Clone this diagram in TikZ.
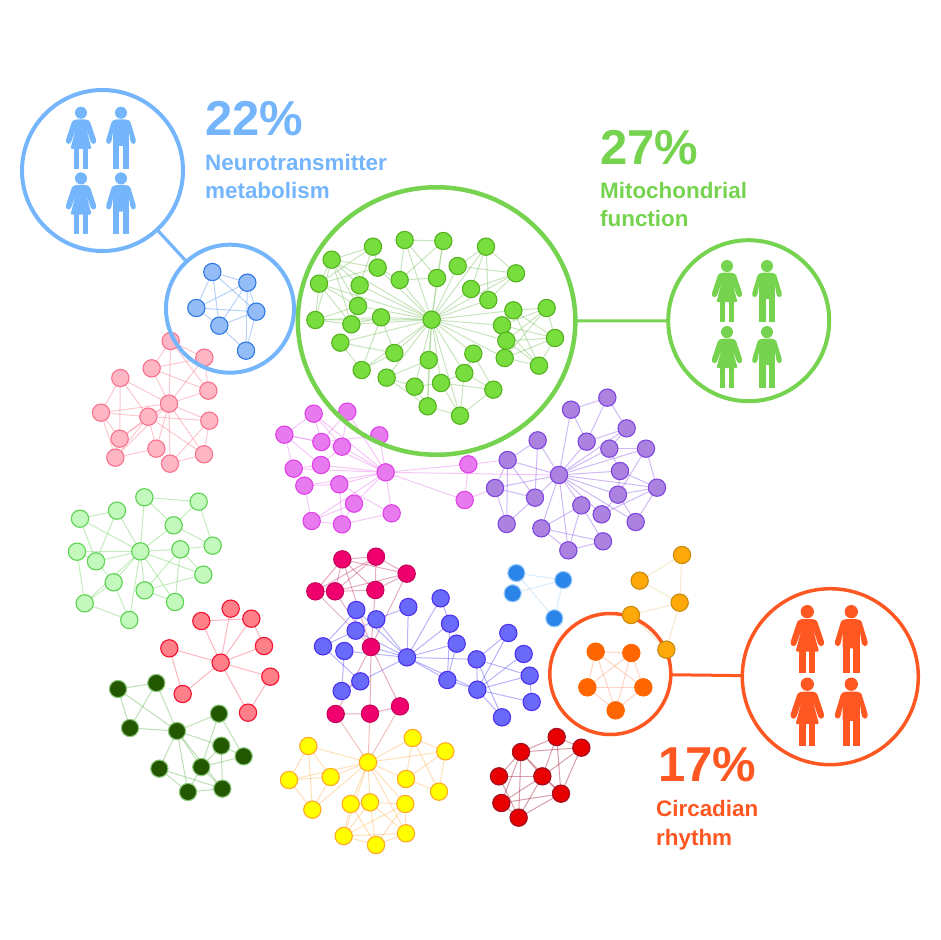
\documentclass[tikz,border=0pt]{standalone}
\usepackage{fontspec}
\setmainfont{Liberation Sans}
\usetikzlibrary{backgrounds,shapes.geometric}
\definecolor{cblue}{HTML}{74B5FC}
\definecolor{cgreen}{HTML}{76D350}
\definecolor{corange}{HTML}{FF5722}
\tikzset{
  dotnode/.style={circle,inner sep=0pt,outer sep=0pt,minimum size=17.3pt,line width=1.1pt},
  nblue/.style={dotnode,fill={rgb,255:red,148;green,189;blue,248},draw={rgb,255:red,45;green,120;blue,225}},
  ngreen/.style={dotnode,fill={rgb,255:red,119;green,222;blue,62},draw={rgb,255:red,84;green,178;blue,30}},
  npink/.style={dotnode,fill={rgb,255:red,255;green,182;blue,196},draw={rgb,255:red,248;green,112;blue,138}},
  nlight/.style={dotnode,fill={rgb,255:red,195;green,249;blue,188},draw={rgb,255:red,91;green,210;blue,79}},
  nmag/.style={dotnode,fill={rgb,255:red,232;green,122;blue,240},draw={rgb,255:red,224;green,64;blue,232}},
  npurple/.style={dotnode,fill={rgb,255:red,171;green,130;blue,224},draw={rgb,255:red,126;green,69;blue,224}},
  ncrim/.style={dotnode,fill={rgb,255:red,240;green,0;blue,110},draw={rgb,255:red,200;green,0;blue,90}},
  nviolet/.style={dotnode,fill={rgb,255:red,106;green,106;blue,250},draw={rgb,255:red,74;green,48;blue,240}},
  nsky/.style={dotnode,fill={rgb,255:red,43;green,133;blue,232},draw={rgb,255:red,170;green,212;blue,248}},
  nred/.style={dotnode,fill={rgb,255:red,255;green,128;blue,136},draw={rgb,255:red,245;green,16;blue,48}},
  ndark/.style={dotnode,fill={rgb,255:red,36;green,88;blue,0},draw={rgb,255:red,140;green,200;blue,125}},
  nyellow/.style={dotnode,fill={rgb,255:red,255;green,255;blue,0},draw={rgb,255:red,255;green,168;blue,32}},
  ndred/.style={dotnode,fill={rgb,255:red,232;green,0;blue,0},draw={rgb,255:red,160;green,16;blue,32}},
  norange/.style={dotnode,fill={rgb,255:red,255;green,102;blue,0},draw={rgb,255:red,255;green,102;blue,0}},
  namber/.style={dotnode,fill={rgb,255:red,255;green,168;blue,10},draw={rgb,255:red,200;green,138;blue,16}},
  ringnode/.style={circle,inner sep=0pt,outer sep=0pt,draw=#1},
  bigtext/.style={anchor=base west,inner sep=0pt,font=\bfseries\fontsize{49}{49}\selectfont},
  smalltext/.style={anchor=base west,inner sep=0pt,font=\bfseries\fontsize{22.4}{26}\selectfont},
  woman/.pic={
    \fill[pic actions] (0,20) circle[radius=20];
    \fill[pic actions,rounded corners=1.3pt] (-16,42) -- (-29,47) -- (-51,113) -- (-47,123) -- (-36,123) -- (-31,113) -- (-15,65) -- (-35,140) -- (35,140) -- (15,65) -- (31,113) -- (36,123) -- (47,123) -- (51,113) -- (29,47) -- (16,42) -- cycle;
    \fill[pic actions] (-24,136) rectangle (-5,205);
    \fill[pic actions] (5,136) rectangle (24,205);
  },
  man/.pic={
    \fill[pic actions] (0,20) circle[radius=20];
    \fill[pic actions,rounded corners=1.3pt] (-16,42) -- (-30,47) -- (-50,113) -- (-46,123) -- (-36,123) -- (-31,113) -- (-26,80) -- (-26,130) -- (26,130) -- (26,80) -- (31,113) -- (36,123) -- (46,123) -- (50,113) -- (30,47) -- (16,42) -- cycle;
    \fill[pic actions] (-26,120) rectangle (-5,205);
    \fill[pic actions] (5,125) rectangle (26,205);
    \fill[pic actions] (-5,110) rectangle (5,125);
  },
  edgeline/.style={line width=1pt,draw opacity=0.45},
}
\newcommand{\placenodes}[2]{\foreach \n/\x/\y in {#2} \node[#1] (\n) at (\x,\y) {};}
\newcommand{\linknodes}[2]{\begin{scope}[on background layer]\foreach \a/\b in {#2} \draw[edgeline,draw={#1}] (\a) -- (\b);\end{scope}}
\begin{document}
\begin{tikzpicture}[x=1pt,y=-1pt]
\useasboundingbox (0,0) rectangle (940,940);
% --- pink + light green
\begin{scope}[shift={(60,330)},scale=1/3]
\placenodes{npink}{p0/327/221,p1/332/33,p2/433/83,p3/275/115,p4/445/182,p5/181/144,p6/123/248,p7/265/260,p8/448/272,p9/179/326,p10/289/356,p11/166/383,p12/330/401,p13/432/373}
\placenodes{nlight}{l0/241/664,l1/253/502,l2/416/515,l3/171/542,l4/60/566,l5/341/586,l6/458/647,l7/361/658,l8/51/665,l9/108/694,l10/430/734,l11/161/757,l12/254/781,l13/345/816,l14/74/820,l15/208/870}
\end{scope}
\linknodes{rgb,255:red,250;green,130;blue,150}{p1/p3,p1/p2,p1/p0,p1/p4,p2/p3,p2/p0,p2/p4,p3/p0,p3/p4,p4/p0,p5/p6,p5/p9,p5/p7,p5/p0,p6/p0,p6/p7,p6/p9,p6/p11,p7/p0,p7/p9,p7/p11,p7/p10,p7/p8,p7/p13,p0/p8,p0/p9,p0/p10,p0/p11,p0/p12,p0/p13,p8/p12,p8/p13,p10/p11,p12/p13,p9/p11}
\linknodes{rgb,255:red,120;green,215;blue,105}{l1/l2,l1/l5,l1/l0,l2/l5,l2/l6,l3/l4,l3/l0,l3/l9,l4/l0,l4/l9,l5/l0,l5/l6,l7/l0,l7/l6,l7/l12,l7/l13,l8/l0,l8/l9,l8/l14,l9/l0,l9/l11,l10/l0,l10/l7,l10/l12,l11/l0,l11/l14,l11/l15,l12/l0,l12/l13,l13/l0,l14/l0,l14/l15,l15/l0}
% --- magenta + purple
\begin{scope}[shift={(270,390)},scale=1/3]
\placenodes{nmag}{m0/347/247,m1/131/71,m2/232/65,m3/43/134,m4/328/136,m5/154/156,m6/216/170,m7/153/225,m8/71/236,m9/103/287,m10/208/283,m11/252/341,m12/365/370,m13/125/393,m14/216/403,m15/595/223,m16/584/330}
\placenodes{npurple}{u0/867/255,u1/1012/23,u2/903/59,u3/1070/115,u4/803/151,u5/950/155,u6/1018/176,u7/1128/176,u8/713/210,u9/1050/243,u10/675/294,u11/1161/293,u12/1044/314,u13/795/323,u14/934/346,u15/995/373,u16/1097/396,u17/710/402,u18/814/415,u19/999/454,u20/895/481}
\end{scope}
\linknodes{rgb,255:red,232;green,130;blue,240}{m1/m0,m1/m3,m1/m5,m1/m6,m2/m0,m2/m6,m2/m5,m3/m5,m3/m6,m3/m7,m3/m8,m4/m5,m4/m0,m5/m0,m6/m0,m6/m7,m7/m0,m7/m8,m8/m0,m9/m0,m9/m10,m9/m13,m10/m0,m10/m12,m10/m14,m11/m0,m11/m13,m11/m14,m12/m0,m12/m14,m13/m0,m13/m14,m0/m15,m0/m16,m15/m16,m15/u8,m16/u10,m0/u0}
\linknodes{rgb,255:red,150;green,100;blue,235}{u0/u2,u0/u3,u0/u4,u0/u5,u0/u6,u0/u7,u0/u8,u0/u9,u0/u10,u0/u11,u0/u12,u0/u13,u0/u14,u0/u15,u0/u16,u0/u18,u0/u20,u1/u2,u1/u3,u1/u5,u2/u5,u3/u5,u3/u6,u4/u8,u4/u13,u6/u7,u7/u11,u7/u12,u6/u9,u9/u12,u9/u11,u11/u12,u11/u15,u11/u16,u12/u15,u12/u16,u8/u10,u8/u13,u8/u17,u10/u13,u10/u17,u13/u17,u14/u18,u14/u19,u14/u20,u18/u20,u18/u19,u19/u20}
% --- crimson, violet, sky
\begin{scope}[shift={(300,540)},scale=1/3]
\placenodes{nviolet}{v0/321/352,v1/169/210,v2/229/238,v3/325/201,v4/167/272,v5/69/319,v6/133/333,v7/181/424,v8/125/453,v9/422/175,v10/450/251,v11/470/311,v12/442/420,v13/530/358,v14/532/449,v15/625/279,v16/671/342,v17/689/407,v18/695/486,v19/606/532}
\placenodes{ncrim}{c1/127/58,c2/228/50,c3/320/101,c4/46/154,c5/105/154,c6/226/150,c7/213/321,c8/107/522,c9/210/521,c10/300/499}
\placenodes{nsky}{w1/649/99,w2/638/160,w3/790/120,w4/763/235}
\end{scope}
\linknodes{rgb,255:red,200;green,70;blue,120}{c1/c2,c1/c3,c1/c4,c1/c5,c1/c6,c2/c3,c2/c4,c2/c5,c2/c6,c3/c5,c3/c6,c3/c7,c4/c5,c5/c6,c4/c7,c1/c7,c5/c7,c6/c7,c7/c8,c7/c9,c7/c10,c8/c9,c9/c10}
\linknodes{rgb,255:red,95;green,85;blue,245}{v0/v1,v0/v2,v0/v3,v0/v4,v0/v6,v0/c7,v0/v7,v0/v9,v0/v10,v0/v11,v0/v12,v0/v13,v0/v14,v1/v5,v1/v4,v2/v3,v2/v4,v4/v5,v5/v7,v6/v8,v7/v8,v9/v10,v11/v12,v10/v12,v12/v14,v13/v14,v13/v15,v13/v17,v13/v19,v14/v15,v14/v16,v14/v17,v14/v18,v14/v19,v17/v18}
\linknodes{rgb,255:red,170;green,212;blue,248}{w1/w3,w1/w4,w2/w3,w3/w4}
% --- red + dark green
\begin{scope}[shift={(100,600)},scale=1/3]
\placenodes{nred}{r0/362/188,r1/392/26,r2/304/63,r3/454/56,r4/492/138,r5/208/145,r6/511/230,r7/248/282,r8/444/338}
\placenodes{ndark}{d0/231/393,d1/54/267,d2/169/249,d3/90/384,d4/357/341,d5/364/437,d6/431/469,d7/178/506,d8/304/501,d9/264/576,d10/367/566}
\end{scope}
\linknodes{rgb,255:red,250;green,90;blue,110}{r0/r1,r0/r2,r0/r3,r0/r4,r0/r5,r0/r6,r0/r7,r0/r8,r2/r3,r3/r4,r5/r7,r6/r8}
\linknodes{rgb,255:red,110;green,185;blue,90}{d0/d1,d0/d2,d0/d3,d0/d4,d0/d5,d0/d7,d0/d8,d0/d9,d0/d10,d1/d2,d1/d3,d2/d3,d4/d6,d4/d8,d5/d6,d5/d8,d5/d10,d6/d8,d7/d9,d7/d10,d8/d9,d8/d10,d9/d10}
% --- yellow + dark red
\begin{scope}[shift={(270,720)},scale=1/3]
\placenodes{nyellow}{y0/294/127,y1/115/78,y2/428/54,y3/526/94,y4/57/180,y5/182/171,y6/408/177,y7/507/215,y8/242/252,y9/300/247,y10/406/252,y11/127/269,y12/408/340,y13/221/348,y14/318/375}
\placenodes{ndred}{t1/860/51,t2/753/96,t3/934/83,t4/687/169,t5/817/169,t6/873/221,t7/694/249,t8/746/293}
\end{scope}
\linknodes{rgb,255:red,255;green,185;blue,100}{y0/y1,y0/y2,y0/y3,y0/y5,y0/y4,y0/y6,y0/y8,y0/y9,y0/y10,y0/y11,y0/y13,y0/y12,y1/y4,y1/y5,y1/y11,y2/y3,y2/y6,y2/y7,y3/y6,y3/y7,y4/y5,y4/y11,y5/y11,y6/y7,y8/y9,y8/y13,y8/y14,y9/y10,y9/y12,y9/y13,y9/y14,y10/y12,y10/y13,y10/y14,y12/y13,y12/y14,y13/y14}
\linknodes{rgb,255:red,225;green,120;blue,110}{c8/y0,c9/y0,c10/y0}
\linknodes{rgb,255:red,170;green,40;blue,65}{t1/t2,t1/t3,t1/t5,t1/t6,t2/t3,t2/t4,t2/t5,t2/t7,t2/t8,t3/t5,t3/t6,t4/t5,t4/t8,t5/t6,t5/t7,t5/t8,t6/t7,t6/t8,t7/t8,t2/t6}
% --- blue cluster, main green cluster
\begin{scope}[shift={(0,70)},scale=1/3]
\placenodes{nblue}{b1/637/606,b2/742/638,b3/589/714,b4/769/725,b5/658/767,b6/738/842}
\end{scope}
\linknodes{rgb,255:red,95;green,155;blue,240}{b1/b2,b1/b3,b1/b5,b1/b4,b2/b3,b2/b4,b2/b5,b2/b6,b3/b5,b3/b4,b4/b5,b4/b6,b5/b6}
\begin{scope}[shift={(290,180)},scale=1/3]
\placenodes{ngreen}{a0/425/419,a1/125/239,a2/249/200,a3/263/263,a4/87/311,a5/209/316,a6/204/378,a7/76/420,a8/184/433,a9/273/412,a10/151/488,a11/329/300,a12/344/180,a13/460/183,a14/441/294,a15/503/258,a16/588/200,a17/678/280,a18/543/327,a19/595/360,a20/670/391,a21/770/384,a22/636/436,a23/649/482,a24/795/474,a25/644/534,a26/747/557,a27/550/521,a28/523/579,a29/610/629,a30/453/609,a31/416/540,a32/374/620,a33/413/679,a34/510/707,a35/313/519,a36/290/593,a37/215/570}
\end{scope}
\linknodes{rgb,255:red,130;green,195;blue,105}{a0/a1,a0/a3,a0/a4,a0/a5,a0/a6,a0/a7,a0/a8,a0/a9,a0/a10,a0/a11,a0/a12,a0/a13,a0/a14,a0/a15,a0/a16,a0/a17,a0/a18,a0/a19,a0/a20,a0/a22,a0/a23,a0/a25,a0/a27,a0/a28,a0/a30,a0/a31,a0/a32,a0/a33,a0/a34,a0/a35,a0/a36,a0/a37,a1/a2,a1/a3,a1/a4,a1/a5,a1/a6,a1/a7,a1/a8,a2/a4,a2/a3,a2/a5,a3/a4,a3/a11,a4/a7,a4/a8,a4/a6,a5/a8,a7/a8,a7/a6,a6/a8,a8/a9,a7/a9,a10/a35,a10/a37,a9/a37,a9/a35,a35/a37,a12/a13,a12/a11,a12/a14,a13/a11,a13/a14,a11/a14,a15/a16,a15/a17,a16/a18,a16/a19,a16/a17,a17/a18,a17/a19,a20/a21,a20/a24,a21/a22,a21/a23,a21/a24,a21/a25,a20/a26,a22/a24,a22/a26,a23/a24,a23/a26,a24/a25,a24/a26,a25/a26,a27/a29,a27/a28,a28/a29,a28/a30,a28/a34,a29/a34,a29/a30,a30/a32,a30/a34,a31/a33,a31/a36,a32/a36,a32/a33,a33/a34,a36/a33}
% --- orange cluster
\begin{scope}[shift={(540,530)},scale=1/3]
\placenodes{norange}{o1/167/365,o2/274/369,o3/142/472,o4/310/472,o5/227/541}
\end{scope}
\linknodes{rgb,255:red,255;green,160;blue,120}{o1/o2,o1/o3,o1/o4,o1/o5,o2/o3,o2/o4,o2/o5,o3/o4,o3/o5,o4/o5}
% --- rings
\node[ringnode=cblue,line width=4pt,minimum size=161pt] (ringBbig) at (102.5,170.5) {};
\node[ringnode=cblue,line width=4pt,minimum size=128pt] (ringBsmall) at (230,308.7) {};
\draw[cblue,line width=3.2pt] (ringBbig) -- (ringBsmall);
\node[ellipse,inner sep=0pt,outer sep=0pt,draw=cgreen,line width=4.5pt,minimum width=277.5pt,minimum height=267.5pt] (ringGbig) at (436.6,321) {};
\node[ringnode=cgreen,line width=4pt,minimum size=161pt] (ringGpeople) at (748.7,320.7) {};
\draw[cgreen,line width=3pt] (ringGbig) -- (ringGpeople);
\node[ringnode=corange,line width=3.5pt,minimum size=121pt] (ringOsmall) at (610.3,674) {};
\node[ringnode=corange,line width=3.5pt,minimum size=176pt] (ringOpeople) at (830.3,676.7) {};
\draw[corange,line width=3pt] (ringOsmall) -- (ringOpeople);
% --- amber cluster above the orange ring
\begin{scope}[shift={(540,530)},scale=1/3]
\placenodes{namber}{n1/426/75,n2/299/152,n3/419/218,n4/273/255,n5/379/359}
\end{scope}
\linknodes{rgb,255:red,235;green,205;blue,140}{n1/n2,n1/n3,n2/n3,n3/n4,n3/n5,n4/n5}
% --- people
\pic[fill=cblue,scale=0.905/3] at (81,106.7) {woman};
\pic[fill=cblue,scale=0.905/3] at (121,106.7) {man};
\pic[fill=cblue,scale=0.905/3] at (81,172.3) {woman};
\pic[fill=cblue,scale=0.905/3] at (121,172.3) {man};
\pic[fill=cgreen,scale=0.905/3] at (727,260) {woman};
\pic[fill=cgreen,scale=0.905/3] at (767,260) {man};
\pic[fill=cgreen,scale=0.905/3] at (727,326) {woman};
\pic[fill=cgreen,scale=0.905/3] at (767,326) {man};
\pic[fill=corange,scale=1/3] at (807.3,605) {woman};
\pic[fill=corange,scale=1/3] at (851.3,605) {man};
\pic[fill=corange,scale=1/3] at (807.3,677.5) {woman};
\pic[fill=corange,scale=1/3] at (851.3,677.5) {man};
% --- text
\node[bigtext,text=cblue] (t22) at (205,135.7) {22\%};
\node[smalltext,text=cblue] (tn1) at (205,170) {Neurotransmitter};
\node[smalltext,text=cblue] (tn2) at (205,198) {metabolism};
\node[bigtext,text=cgreen] (t27) at (600,164) {27\%};
\node[smalltext,text=cgreen] (tm1) at (600,198) {Mitochondrial};
\node[smalltext,text=cgreen] (tm2) at (600,226.6) {function};
\node[bigtext,text=corange] (t17) at (658,781.7) {17\%};
\node[smalltext,text=corange] (tc1) at (656,816.7) {Circadian};
\node[smalltext,text=corange] (tc2) at (656,845) {rhythm};
\end{tikzpicture}
\end{document}
